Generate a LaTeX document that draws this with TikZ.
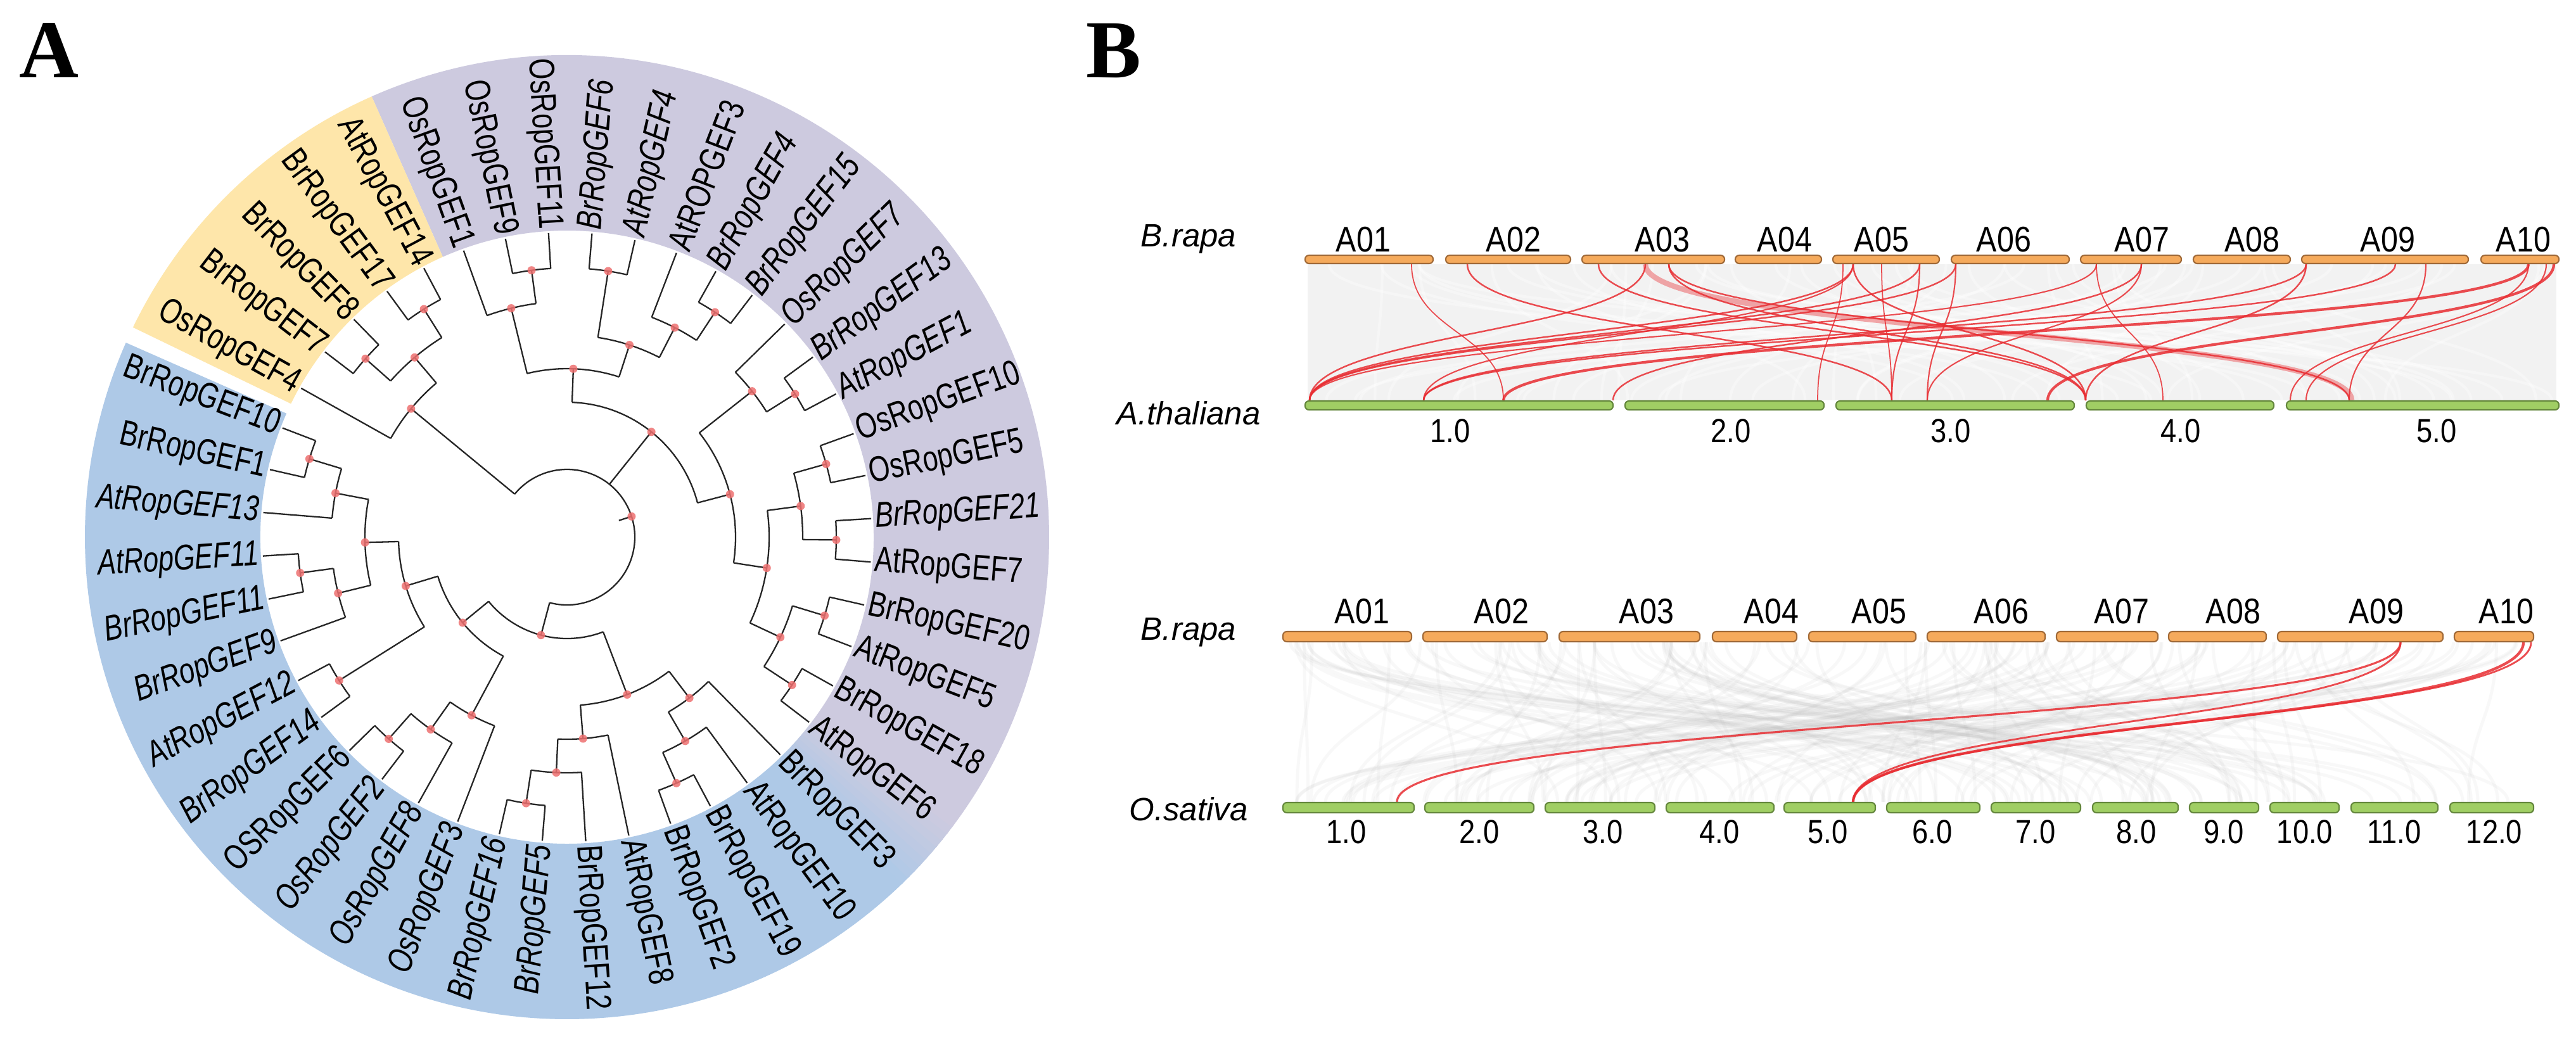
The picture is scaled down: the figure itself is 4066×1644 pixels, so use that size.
\documentclass[tikz,border=0pt]{standalone}
\usepackage{fontspec}
\setmainfont{Liberation Sans}
\newfontfamily\treefont[FakeStretch=0.77]{Liberation Sans}
\newfontfamily\chrfont[FakeStretch=0.86]{Liberation Sans}
\newfontfamily\spfont{Liberation Sans}
\newfontfamily\panfont{Liberation Serif}
\definecolor{tblue}{RGB}{174,201,231}
\definecolor{tpurple}{RGB}{205,202,223}
\definecolor{tyellow}{RGB}{254,230,170}
\definecolor{mred}{RGB}{238,112,112}
\definecolor{ofill}{RGB}{245,170,92}
\definecolor{oline}{RGB}{160,105,55}
\definecolor{gfill}{RGB}{160,206,100}
\definecolor{gline}{RGB}{100,135,60}
\definecolor{lred}{RGB}{232,45,50}
\begin{document}
\begin{tikzpicture}[x=0.01cm,y=-0.01cm,
 branch/.style={line width=0.65pt, black!85},
 lab/.style={inner sep=0pt, font=\treefont\fontsize{16}{16}\selectfont},
 chr/.style={inner sep=0pt, font=\chrfont\fontsize{16}{16}\selectfont},
 num/.style={inner sep=0pt, font=\chrfont\fontsize{15}{15}\selectfont},
 sp/.style={inner sep=0pt, font=\spfont\itshape\fontsize{14.5}{14.5}\selectfont},
 pan/.style={inner sep=0pt, font=\panfont\bfseries\fontsize{37}{37}\selectfont},
 obar/.style={fill=ofill, draw=oline, line width=0.6pt, rounded corners=0.06cm},
 gbar/.style={fill=gfill, draw=gline, line width=0.6pt, rounded corners=0.06cm},
 redlink/.style={draw=lred, opacity=0.85},
 graylink/.style={draw=black!30, opacity=0.08, line width=1.4pt},
]
\useasboundingbox (0,0) rectangle (4066,1644);
\fill[white] (0,0) rectangle (4066,1644);

% panel letters
\node[pan] (PA) at (77,80) {A};
\node[pan] (PB) at (1758,80) {B};

% ---------------- tree ----------------
\begin{scope}[shift={(895,848)}, yscale=-1]
 % coloured sectors
 \fill[tblue] (156.2:484) arc[start angle=156.2, end angle=314.3, radius=484] -- (314.3:761) arc[start angle=314.3, end angle=156.2, radius=761] -- cycle;
 \foreach \k in {0,...,8}{
   \pgfmathsetmacro\aa{314+\k}
   \pgfmathsetmacro\bb{315.3+\k}
   \pgfmathtruncatemacro\pc{96-11*\k}
   \fill[tblue!\pc!tpurple] (\aa:484) arc[start angle=\aa, end angle=\bb, radius=484] -- (\bb:761) arc[start angle=\bb, end angle=\aa, radius=761] -- cycle;
 }
 \fill[tpurple] (323:484) arc[start angle=323, end angle=473.9, radius=484] -- (473.9:761) arc[start angle=473.9, end angle=323, radius=761] -- cycle;
 \fill[tyellow] (473.9:484) arc[start angle=473.9, end angle=514.2, radius=484] -- (514.2:761) arc[start angle=514.2, end angle=473.9, radius=761] -- cycle;

 % internal nodes: angle/level/childA/childB/parentlevel
 \foreach \t/\h/\a/\b/\ph in {
  163.09/1/159/167.18/2, 169.225/2/163.09/175.36/3, 187.63/1/183.54/191.72/2,
  193.765/2/187.63/199.9/3, 181.495/3/169.225/193.765/4, 212.17/1/208.08/216.26/4,
  196.8325/4/181.495/212.17/5, 228.53/1/224.44/232.62/2, 234.665/2/228.53/240.8/3,
  241.8225/3/234.665/248.98/5, 219.3275/5/196.8325/241.8225/6, 261.25/1/257.16/265.34/2,
  267.385/2/261.25/273.52/3, 274.5425/3/267.385/281.7/4, 293.97/1/289.88/298.06/2,
  300.105/2/293.97/306.24/3, 307.2625/3/300.105/314.42/4, 290.9025/4/274.5425/307.2625/6,
  255.115/6/219.3275/290.9025/7,
  326.69/1/322.6/330.78/2, 343.05/1/338.96/347.14/2, 334.87/2/326.69/343.05/3,
  359.41/1/355.32/363.5/2, 375.77/1/371.68/379.86/2, 367.59/2/359.41/375.77/3,
  351.23/3/334.87/367.59/4, 392.13/1/388.04/396.22/2, 398.265/2/392.13/404.4/4,
  374.7475/4/351.23/398.265/5, 416.67/1/412.58/420.76/2, 422.805/2/416.67/428.94/3,
  441.21/1/437.12/445.3/3, 432.0075/3/422.805/441.21/4, 457.57/1/453.48/461.66/2,
  463.705/2/457.57/469.84/4, 447.856/4/432.0075/463.705/5, 411.3/5/374.7475/447.856/7,
  482.11/1/478.02/486.2/2, 498.47/1/494.38/502.56/2, 490.29/2/482.11/498.47/3,
  500.515/3/490.29/510.74/7}{
   \pgfmathsetmacro\r{478-53*\h}
   \pgfmathsetmacro\rq{478-53*\ph}
   \draw[branch] (\a:\r) arc[start angle=\a, end angle=\b, radius=\r];
   \draw[branch] (\t:\r) -- (\t:\rq);
 }
 % root
 \draw[branch] (255.115:107) arc[start angle=255.115, end angle=500.515, radius=107];
 \draw[branch] (377.815:107) -- (377.815:86);

 % leaves
 \foreach \i/\nm/\st/\pl in {
  0/BrRopGEF10/\upshape/1, 1/BrRopGEF1/\upshape/1, 2/AtRopGEF13/\itshape/2,
  3/AtRopGEF11/\itshape/1, 4/BrRopGEF11/\itshape/1, 5/BrRopGEF9/\itshape/2,
  6/AtRopGEF12/\itshape/1, 7/BrRopGEF14/\itshape/1, 8/OSRopGEF6/\upshape/1,
  9/OsRopGEF2/\itshape/1, 10/OsRopGEF8/\itshape/2, 11/OsRopGEF3/\itshape/3,
  12/BrRopGEF16/\itshape/1, 13/BrRopGEF5/\itshape/1, 14/BrRopGEF12/\upshape/2,
  15/AtRopGEF8/\upshape/3, 16/BrRopGEF2/\upshape/1, 17/BrRopGEF19/\upshape/1,
  18/AtRopGEF10/\upshape/2, 19/BrRopGEF3/\upshape/3, 20/AtRopGEF6/\upshape/1,
  21/BrRopGEF18/\upshape/1, 22/AtRopGEF5/\upshape/1, 23/BrRopGEF20/\upshape/1,
  24/AtRopGEF7/\upshape/1, 25/BrRopGEF21/\itshape/1, 26/OsRopGEF5/\upshape/1,
  27/OsRopGEF10/\upshape/1, 28/AtRopGEF1/\itshape/1, 29/BrRopGEF13/\itshape/1,
  30/OsRopGEF7/\itshape/2, 31/BrRopGEF15/\itshape/1, 32/BrRopGEF4/\itshape/1,
  33/AtROPGEF3/\upshape/2, 34/AtRopGEF4/\itshape/1, 35/BrRopGEF6/\itshape/1,
  36/OsRopGEF11/\upshape/1, 37/OsRopGEF9/\upshape/1, 38/OsRopGEF1/\upshape/2,
  39/AtRopGEF14/\upshape/1, 40/BrRopGEF17/\upshape/1, 41/BrRopGEF8/\upshape/1,
  42/BrRopGEF7/\upshape/1, 43/OsRopGEF4/\upshape/3}{
   \pgfmathsetmacro\ang{159+8.18*\i}
   \pgfmathsetmacro\rp{478-53*\pl}
   \draw[branch] (\ang:481) -- (\ang:\rp);
   \pgfmathsetmacro\am{mod(\ang,360)}
   \pgfmathtruncatemacro\lft{ifthenelse(and(\am>90,\am<270),1,0)}
   \ifnum\lft=1
     \pgfmathsetmacro\rot{\ang-180}
     \node[lab, anchor=east, rotate=\rot] (L\i) at (\ang:487) {\st\nm};
   \else
     \node[lab, anchor=west, rotate=\ang] (L\i) at (\ang:487) {\st\nm};
   \fi
 }

 % node marks
 \foreach \t/\h in {163.09/1, 169.225/2, 187.63/1, 193.765/2, 181.495/3, 212.17/1,
  196.8325/4, 228.53/1, 234.665/2, 241.8225/3, 219.3275/5, 261.25/1, 267.385/2,
  274.5425/3, 293.97/1, 300.105/2, 307.2625/3, 290.9025/4, 255.115/6, 326.69/1,
  343.05/1, 334.87/2, 359.41/1, 375.77/1, 367.59/2, 351.23/3, 392.13/1, 398.265/2,
  374.7475/4, 416.67/1, 422.805/2, 441.21/1, 432.0075/3, 457.57/1, 463.705/2,
  447.856/4, 411.3/5, 482.11/1, 498.47/1, 490.29/2, 500.515/3, 377.815/7}{
   \pgfmathsetmacro\r{478-53*\h}
   \fill[mred, opacity=0.85] (\t:\r) circle[radius=6.5];
 }
\end{scope}

% ---------------- panel B, upper ----------------
\fill[black!5] (2064,417) rectangle (4035,632);
\pgfmathsetseed{5}
\foreach \k in {1,...,60}{
  \pgfmathsetmacro\xa{2070+1960*rnd}
  \pgfmathsetmacro\xb{2070+1960*rnd}
  \draw[draw=white, opacity=0.35, line width=1.2pt] (\xa,417) .. controls (\xa,525) and (\xb,525) .. (\xb,632);
}
\foreach \xa/\xb/\w in {2228/2373/0.5, 2316/2986/0.7, 2523/3292/0.7, 2597/2067/0.7,
  2634/3292/0.7, 2634/3708/0.7, 2909/2869/0.5, 2925/2067/0.7, 2925/3292/0.7,
  2970/2986/0.5, 3030/2986/0.6, 3030/2067/0.7, 3087/3042/0.6, 3087/2067/0.7,
  3309/3414/0.5, 3380/3042/0.6, 3640/3292/0.7, 3781/2247/0.7, 3829/3708/0.6,
  3991/3615/0.6, 4019/3640/0.6, 4031/3232/1.2, 3991/2373/1.2, 3640/2247/0.7,
  3380/2546/0.7, 2925/2247/0.6, 3309/2067/0.6}{
  \draw[redlink, line width=\w pt] (\xa,417) .. controls (\xa,525) and (\xb,525) .. (\xb,632);
}
\draw[draw=lred, opacity=0.4, line width=2.4pt] (2597,417) .. controls (2597,525) and (3712,525) .. (3712,632);

\foreach \xa/\xb in {2060/2262, 2282/2479, 2497/2722, 2739/2875, 2893/3061, 3080/3266,
  3284/3443, 3462/3615, 3633/3896, 3916/4039}{
  \draw[obar] (\xa,403) rectangle (\xb,416);
}
\foreach \xa/\xb in {2060/2546, 2565/2879, 2898/3274, 3293/3589, 3609/4039}{
  \draw[gbar] (\xa,633) rectangle (\xb,647);
}
\foreach \x/\t in {2152/A01, 2389/A02, 2624/A03, 2817/A04, 2970/A05, 3163/A06,
  3381/A07, 3555/A08, 3769/A09, 3983/A10}{
  \node[chr] (u\t) at (\x,378) {\t};
}
\foreach \x/\t [count=\c] in {2289/1.0, 2732/2.0, 3079/3.0, 3442/4.0, 3846/5.0}{
  \node[num] (un\c) at (\x,680) {\t};
}
\node[sp] (spBr1) at (1876,377) {B.rapa};
\node[sp] (spAt) at (1876,652) {A.thaliana};

% ---------------- panel B, lower ----------------
\pgfmathsetseed{11}
\foreach \k in {1,...,170}{
  \pgfmathsetmacro\xa{2035+1955*rnd}
  \pgfmathsetmacro\xb{2035+1955*rnd}
  \draw[graylink] (\xa,1014) .. controls (\xa,1140) and (\xb,1140) .. (\xb,1266);
}
\foreach \xa/\xb/\w in {3789/2205/0.9, 3789/2925/0.8, 3983/2925/1.2, 3995/2925/0.8}{
  \draw[redlink, line width=\w pt] (\xa,1014) .. controls (\xa,1140) and (\xb,1140) .. (\xb,1266);
}
\foreach \xa/\xb in {2025/2228, 2246/2442, 2461/2683, 2703/2836, 2855/3024, 3042/3228,
  3246/3406, 3423/3577, 3595/3856, 3874/3999}{
  \draw[obar] (\xa,997) rectangle (\xb,1013);
}
\foreach \xa/\xb in {2025/2232, 2249/2421, 2439/2612, 2630/2800, 2816/2960, 2978/3125,
  3143/3284, 3303/3438, 3456/3565, 3583/3692, 3711/3848, 3867/3999}{
  \draw[gbar] (\xa,1267) rectangle (\xb,1283);
}
\foreach \x/\t in {2150/A01, 2370/A02, 2599/A03, 2796/A04, 2966/A05, 3159/A06,
  3349/A07, 3525/A08, 3751/A09, 3956/A10}{
  \node[chr] (l\t) at (\x,965) {\t};
}
\foreach \x/\t [count=\c] in {2125/1.0, 2335/2.0, 2530/3.0, 2714/4.0, 2885/5.0, 3050/6.0,
  3213/7.0, 3372/8.0, 3510/9.0, 3638/10.0, 3779/11.0, 3937/12.0}{
  \node[num] (ln\c) at (\x,1313) {\t};
}
\node[sp] (spBr2) at (1876,998) {B.rapa};
\node[sp] (spOs) at (1876,1277) {O.sativa};
\end{tikzpicture}
\end{document}
